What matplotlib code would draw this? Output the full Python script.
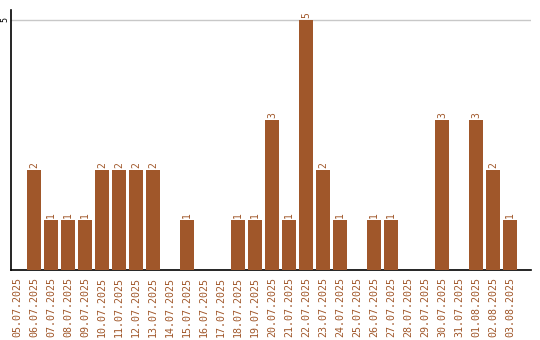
import matplotlib
matplotlib.use("Agg")
import matplotlib.pyplot as plt

dates = ["05.07.2025", "06.07.2025", "07.07.2025", "08.07.2025", "09.07.2025",
         "10.07.2025", "11.07.2025", "12.07.2025", "13.07.2025", "14.07.2025",
         "15.07.2025", "16.07.2025", "17.07.2025", "18.07.2025", "19.07.2025",
         "20.07.2025", "21.07.2025", "22.07.2025", "23.07.2025", "24.07.2025",
         "25.07.2025", "26.07.2025", "27.07.2025", "28.07.2025", "29.07.2025",
         "30.07.2025", "31.07.2025", "01.08.2025", "02.08.2025", "03.08.2025"]
values = [0, 2, 1, 1, 1, 2, 2, 2, 2, 0, 1, 0, 0, 1, 1, 3, 1, 5, 2, 1,
          0, 1, 1, 0, 0, 3, 0, 3, 2, 1]

bar_color = "#A0572A"
label_color = "#A0572A"

fig = plt.figure(figsize=(5.4, 3.4), dpi=100)
ax = fig.add_axes([10.5/540, 1-270/340, (531-10.5)/540, 260/340])

x = list(range(len(dates)))
ax.bar(x, values, width=14/17, color=bar_color, zorder=3)
ax.set_xlim(-0.38, 30.24)
ax.set_ylim(0, 5.2)

ax.set_yticks([5])
ax.set_yticklabels(["5"], rotation=90, family="DejaVu Sans Mono", fontsize=6, va="center")
ax.yaxis.grid(True, color="#c8c8c8", linewidth=1, zorder=0)
ax.tick_params(axis="y", length=0, pad=1)

ax.set_xticks(x)
ax.set_xticklabels(dates, rotation=90, family="DejaVu Sans Mono", fontsize=7.2,
                   color=label_color, va="top")
ax.tick_params(axis="x", length=0, pad=5)

for xi, v in zip(x, values):
    if v > 0:
        ax.text(xi, v + 0.03, str(v), rotation=90, ha="center", va="bottom",
                family="DejaVu Sans Mono", fontsize=7, color=label_color)

for s in ["top", "right"]:
    ax.spines[s].set_visible(False)
ax.spines["left"].set_color("black")
ax.spines["bottom"].set_color("black")
ax.spines["left"].set_linewidth(1.2)
ax.spines["bottom"].set_linewidth(1.2)

fig.savefig("out.png", dpi=100)
